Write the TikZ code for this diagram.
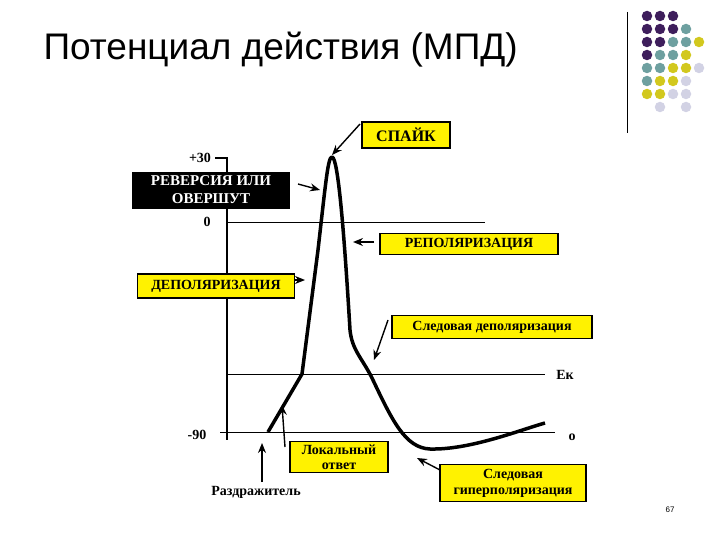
\documentclass[tikz,border=0pt]{standalone}
\usepackage{fontspec}
\setmainfont{Liberation Serif}
\newfontfamily\titlefont{Liberation Sans}
\usetikzlibrary{arrows.meta}
\definecolor{dpur}{RGB}{62,30,92}
\definecolor{teal2}{RGB}{110,160,160}
\definecolor{yel}{RGB}{210,200,30}
\definecolor{lav}{RGB}{210,210,228}
\begin{document}
\begin{tikzpicture}[x=1pt,y=-1pt,
  ybox/.style={draw=black,line width=1.5pt,fill=yellow,font=\bfseries\fontsize{14}{16}\selectfont,align=center,inner sep=1pt},
  lbl/.style={font=\bfseries\fontsize{14}{16}\selectfont},
  arr/.style={-{Stealth[length=10pt,width=8pt]},line width=1.4pt},
  dot/.style={circle,minimum size=10.5pt,inner sep=0pt}]
\useasboundingbox (0,0) rectangle (720,540);
\node[anchor=west,font=\titlefont\fontsize{37}{40}\selectfont] (title) at (40,50) {Потенциал действия (МПД)};
% decoration
\draw[line width=0.8pt] (627,12) -- (627,133);
\foreach \c/\col/\r in {0/dpur/0,1/dpur/0,2/dpur/0,
 0/dpur/1,1/dpur/1,2/dpur/1,3/teal2/1,
 0/dpur/2,1/dpur/2,2/teal2/2,3/teal2/2,4/yel/2,
 0/dpur/3,1/teal2/3,2/teal2/3,3/yel/3,
 0/teal2/4,1/teal2/4,2/yel/4,3/yel/4,4/lav/4,
 0/teal2/5,1/yel/5,2/yel/5,3/lav/5,
 0/yel/6,1/yel/6,2/lav/6,3/lav/6,
 1/lav/7,3/lav/7}
 \node[dot,fill=\col] at ({647+13*\c},{16+13*\r}) {};
% axes
\draw[line width=1.5pt] (215,158) -- (227,158) -- (227,440);
\draw[line width=0.7pt] (227,222) -- (485,222);
\draw[line width=0.7pt] (227,374) -- (545,374);
\draw[line width=0.9pt] (220,432) -- (555,432);
\node[lbl] (p30) at (200,158) {+30};
\node[lbl] (z) at (207,222) {0};
\node[lbl] (m90) at (197,435) {-90};
\node[lbl] (ek) at (565,375) {Ек};
\node[lbl] (o) at (572,437) {о};
% curve
\draw[line width=3.5pt,line join=round] (268,432) -- (302,374) -- (318,250)
  .. controls (326,180) and (328,157) .. (332,157)
  .. controls (338,157) and (344,230) .. (350,330)
  .. controls (352,350) and (362,358) .. (372,378)
  .. controls (392,420) and (405,448) .. (430,449)
  .. controls (470,450) and (520,430) .. (545,423);
% boxes
\node[ybox,font=\bfseries\fontsize{16}{18}\selectfont,minimum width=88pt,minimum height=26pt] (spike) at (406,135) {СПАЙК};
\node[draw=black,fill=black,text=white,font=\bfseries\fontsize{15}{18}\selectfont,align=center,minimum width=157pt,minimum height=36pt,inner sep=0pt] (rev) at (211,190) {РЕВЕРСИЯ ИЛИ\\ОВЕРШУТ};
\node[ybox,minimum width=178pt,minimum height=21pt] (repol) at (469,244) {РЕПОЛЯРИЗАЦИЯ};
\node[ybox,minimum width=157pt,minimum height=24pt] (depol) at (216,286) {ДЕПОЛЯРИЗАЦИЯ};
\node[ybox,minimum width=200pt,minimum height=23pt] (sdepol) at (492,327) {Следовая деполяризация};
\node[ybox,font=\bfseries\fontsize{14}{15}\selectfont,minimum width=98pt,minimum height=31pt] (loc) at (339,457) {Локальный\\ответ};
\node[ybox,font=\bfseries\fontsize{14}{16}\selectfont,minimum width=146pt,minimum height=37pt] (hyp) at (513,483) {Следовая\\гиперполяризация};
\node[lbl,font=\bfseries\fontsize{14}{16}\selectfont] (razd) at (256,492) {Раздражитель};
\node[font=\titlefont\fontsize{8}{9}\selectfont] (pg) at (670,510) {67};
% arrows
\coordinate (a1) at (332,155);
\draw[arr] (360,124) -- (a1);
\coordinate (a2) at (320,190);
\draw[arr] (298,184) -- (a2);
\coordinate (a3) at (353,242);
\draw[arr] (374,242) -- (a3);
\coordinate (a4) at (305,280);
\draw[arr] (295,280) -- (a4);
\coordinate (a5) at (374,360);
\draw[arr] (388,320) -- (a5);
\coordinate (a6) at (282,405);
\draw[arr] (285,447) -- (a6);
\coordinate (a7) at (262,443);
\draw[arr] (262,482) -- (a7);
\coordinate (a8) at (417,458);
\draw[arr] (440,470) -- (a8);
\end{tikzpicture}
\end{document}
